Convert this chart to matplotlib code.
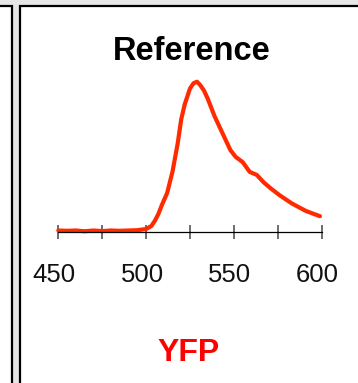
import matplotlib.pyplot as plt
from matplotlib.patches import Rectangle
from matplotlib.transforms import ScaledTranslation

# emission spectrum (normalised to peak = 1)
wavelength = [450, 455, 460, 465, 470, 475, 480, 485, 490, 495, 500, 503, 505,
              507, 509, 512, 515, 518, 520, 522, 525, 527, 529, 531, 533, 535,
              539, 544, 548, 551, 555, 559, 563, 567, 571, 576, 583, 591, 599]
intensity = [0.010, 0.008, 0.010, 0.005, 0.010, 0.006, 0.010, 0.008, 0.010,
             0.012, 0.020, 0.040, 0.075, 0.120, 0.180, 0.260, 0.400, 0.590,
             0.750, 0.850, 0.955, 0.990, 1.000, 0.975, 0.940, 0.890, 0.770,
             0.645, 0.545, 0.500, 0.465, 0.400, 0.380, 0.330, 0.290, 0.245,
             0.190, 0.140, 0.105]
tick_pos = [450, 475, 500, 525, 550, 575, 600]
tick_labels = ['450', '', '500', '', '550', '', '600']
title = 'Reference'
protein = 'YFP'

W, H = 358, 383
fig = plt.figure(figsize=(W / 100, H / 100), dpi=100)
fig.patch.set_facecolor('#e6e6e6')

# panel frames (neighbour panel on the left, this panel) - behind the axes
fig.add_artist(Rectangle((-10 / W, -0.1), 22 / W, 1.1 - 6 / H, zorder=-5,
                         transform=fig.transFigure, fc='white', ec='black', lw=1.6))
fig.add_artist(Rectangle((20 / W, -0.1), 1.0, 1.1 - 6 / H, zorder=-5,
                         transform=fig.transFigure, fc='white', ec='black', lw=1.6))

ax = fig.add_axes([58.3 / W, 1 - 232 / H, 263.4 / W, 165.3 / H])
ax.patch.set_alpha(0)
ax.plot(wavelength, intensity, color='#ff2a00', lw=3.0, solid_capstyle='round',
        clip_on=False)
ax.set_xlim(450, 600)
ax.set_ylim(0, 1.1)

for s in ['top', 'left', 'right']:
    ax.spines[s].set_visible(False)
ax.spines['bottom'].set_linewidth(0.9)
ax.set_yticks([])
ax.set_xticks(tick_pos)
ax.set_xticklabels(tick_labels, family='Liberation Sans', fontsize=18.5,
                   color='#111111')
ax.tick_params(axis='x', direction='inout', length=10, width=1.2,
               color='#555555', pad=17)
shift = ScaledTranslation(-4 / 100, 0, fig.dpi_scale_trans)
for lab in ax.get_xticklabels():
    lab.set_transform(lab.get_transform() + shift)

fig.text(191.7 / W, 1 - 60 / H, title, ha='center', va='baseline',
         family='Liberation Sans', fontsize=23.5, fontweight='bold',
         color='black')
fig.text(189 / W, 1 - 361 / H, protein, ha='center', va='baseline',
         family='Liberation Sans', fontsize=23, fontweight='bold',
         color='#ff0000')

fig.savefig('out.png', dpi=100, facecolor=fig.get_facecolor())
